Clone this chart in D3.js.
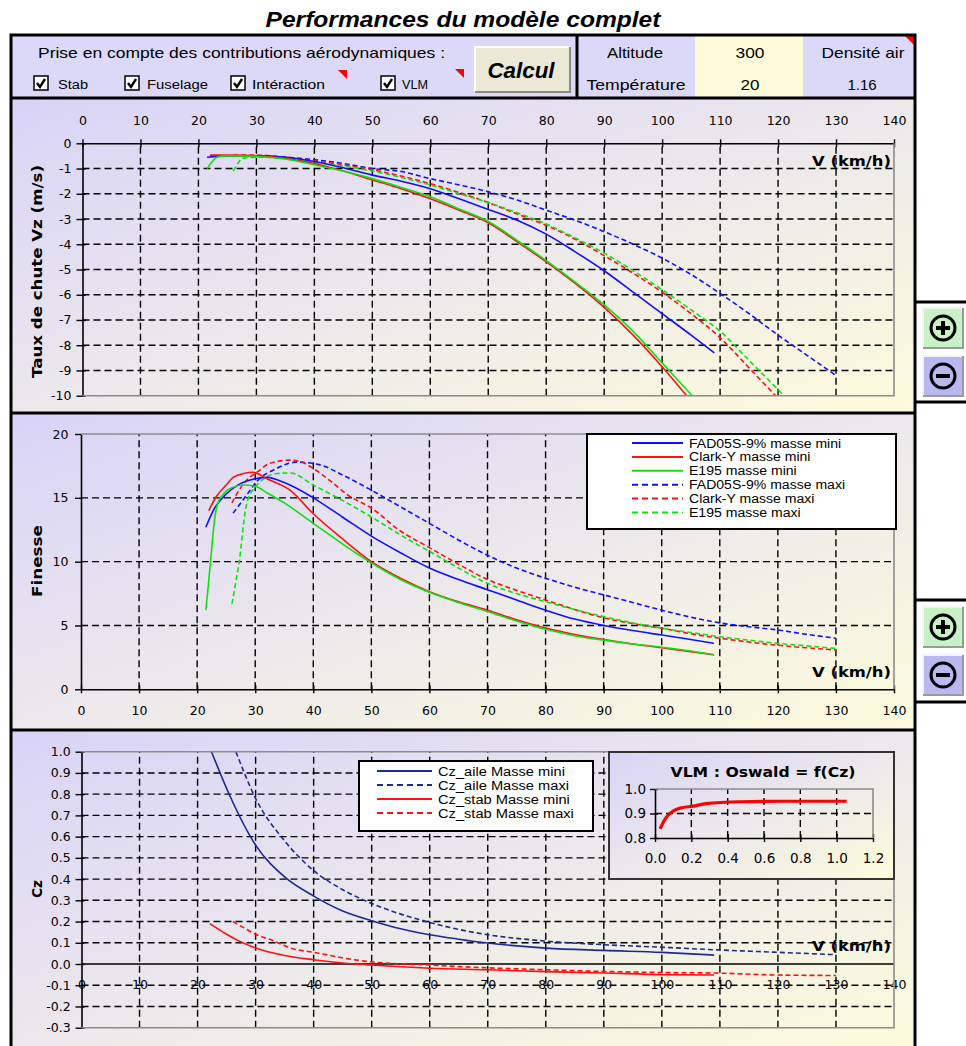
<!DOCTYPE html>
<html>
<head>
<meta charset="utf-8">
<script src="https://cdn.jsdelivr.net/npm/d3@7"></script>
<style>
body { margin: 0; background: #fff; }
svg text { font-family: "DejaVu Sans", Verdana, sans-serif; }
</style>
</head>
<body>
<div id="chart-area"></div>
<script>
// SVG size
let width = 966,
	height = 1046;

// tick values
const speedTicks = [0, 10, 20, 30, 40, 50, 60, 70, 80, 90, 100, 110, 120, 130, 140];
const vzTicks = [0, -1, -2, -3, -4, -5, -6, -7, -8, -9, -10];
const finesseTicks = [0, 5, 10, 15, 20];
const czTicks = [1.0, 0.9, 0.8, 0.7, 0.6, 0.5, 0.4, 0.3, 0.2, 0.1, 0.0, -0.1, -0.2, -0.3];
const oswaldXTicks = [0, 0.2, 0.4, 0.6, 0.8, 1.0, 1.2];
const oswaldYTicks = [0.8, 0.9, 1.0];

// legend labels
const profileNames = ["FAD05S-9% masse mini", "Clark-Y masse mini", "E195 masse mini",
	"FAD05S-9% masse maxi", "Clark-Y masse maxi", "E195 masse maxi"];
const czNames = ["Cz_aile Masse mini", "Cz_aile Masse maxi", "Cz_stab Masse mini", "Cz_stab Masse maxi"];

// Taux de chute Vz (m/s) vs V (km/h)
const vzFadMini = [[21.5,-0.55],[25,-0.5],[30,-0.5],[35,-0.55],[40,-0.72],[45,-0.97],[50,-1.26],[55,-1.5],[60,-1.8],[65,-2.2],[70,-2.62],[75,-3.05],[80,-3.6],[85,-4.3],[90,-5.05],[95,-5.9],[100,-6.75],[105,-7.6],[109,-8.3]];
const vzClarkMini = [[22,-0.47],[25,-0.47],[30,-0.5],[35,-0.6],[40,-0.8],[45,-1.1],[50,-1.45],[55,-1.8],[60,-2.2],[65,-2.65],[70,-3.15],[75,-3.9],[80,-4.7],[85,-5.55],[90,-6.5],[95,-7.6],[100,-8.85],[105,-10.2],[109,-11.2]];
const vzE195Mini = [[21.5,-1.0],[22.3,-0.75],[23.2,-0.55],[25,-0.5],[30,-0.52],[35,-0.62],[40,-0.85],[45,-1.1],[50,-1.4],[55,-1.75],[60,-2.12],[65,-2.6],[70,-3.1],[75,-3.85],[80,-4.65],[85,-5.5],[90,-6.4],[95,-7.45],[100,-8.7],[105,-9.95],[109,-10.9]];
const vzFadMaxi = [[26,-0.5],[30,-0.5],[35,-0.55],[40,-0.65],[45,-0.8],[50,-1.0],[55,-1.12],[60,-1.4],[65,-1.65],[70,-1.92],[75,-2.25],[80,-2.65],[85,-3.05],[90,-3.5],[95,-4.0],[100,-4.55],[105,-5.2],[110,-5.95],[115,-6.75],[120,-7.6],[125,-8.4],[130,-9.2]];
const vzClarkMaxi = [[26,-0.47],[30,-0.47],[35,-0.55],[40,-0.7],[45,-0.85],[50,-1.05],[55,-1.3],[60,-1.6],[65,-1.95],[70,-2.35],[75,-2.8],[80,-3.25],[85,-3.8],[90,-4.45],[95,-5.15],[100,-5.9],[105,-6.75],[110,-7.7],[115,-8.9],[120,-10.1],[125,-11.3],[130,-12.5]];
const vzE195Maxi = [[26,-1.1],[26.8,-0.8],[27.6,-0.6],[30,-0.55],[35,-0.6],[40,-0.75],[45,-0.9],[50,-1.1],[55,-1.35],[60,-1.65],[65,-2.0],[70,-2.35],[75,-2.75],[80,-3.2],[85,-3.75],[90,-4.35],[95,-5.05],[100,-5.8],[105,-6.6],[110,-7.45],[115,-8.6],[121,-10],[125,-11],[130,-12.2]];

// Finesse vs V (km/h)
const fFadMini = [[21.5,12.7],[23,14.2],[25,15.3],[27,16.0],[30,16.5],[32,16.6],[35,16.2],[40,15.0],[45,13.5],[50,12.0],[55,10.7],[60,9.5],[65,8.6],[70,7.8],[75,7.0],[80,6.2],[85,5.5],[90,5.0],[95,4.6],[100,4.25],[105,3.9],[109,3.6]];
const fClarkMini = [[22,14.0],[23.3,15.1],[25,16.0],[26.2,16.6],[28,16.9],[29.6,17.0],[32,16.5],[36,15.6],[40,13.75],[45,11.8],[50,10.0],[55,8.7],[60,7.65],[65,6.85],[70,6.2],[75,5.45],[80,4.8],[85,4.3],[90,3.9],[95,3.55],[100,3.25],[105,2.95],[109,2.7]];
const fE195Mini = [[21.5,6.2],[22,8.5],[22.5,11.0],[23,13.3],[23.5,14.5],[24.5,15.3],[26,15.8],[28,16.0],[30,15.9],[32,15.4],[35,14.6],[40,13.0],[45,11.4],[50,9.9],[55,8.6],[60,7.6],[65,6.8],[70,6.1],[75,5.35],[80,4.7],[85,4.2],[90,3.85],[95,3.55],[100,3.3],[105,3.0],[109,2.7]];
const fFadMaxi = [[26.2,13.8],[28.5,15.2],[30.3,16.3],[33.7,17.3],[37,17.8],[41,17.6],[45,16.8],[50,15.6],[55,14.3],[60,13.0],[65,11.7],[70,10.5],[75,9.5],[80,8.7],[85,8.0],[90,7.4],[95,6.8],[100,6.2],[105,5.65],[110,5.2],[115,4.9],[120,4.65],[125,4.3],[130,4.0]];
const fClarkMaxi = [[26,14.6],[27.5,15.8],[29,16.6],[30,16.9],[32.5,17.7],[36,17.95],[38,17.8],[40,17.3],[43,16.3],[46,15.2],[50,14.2],[55,12.4],[60,11.1],[65,9.8],[70,8.6],[75,7.75],[80,7.0],[85,6.25],[90,5.6],[95,5.15],[100,4.78],[105,4.35],[110,4.0],[115,3.7],[120,3.45],[125,3.25],[130,3.08]];
const fE195Maxi = [[26,6.7],[26.7,8.5],[27.4,10.5],[28,13.0],[28.5,14.5],[30.3,16.0],[33.7,16.9],[36,16.95],[40,16.0],[45,14.8],[50,13.5],[55,12.1],[60,10.8],[65,9.5],[70,8.3],[75,7.5],[80,6.86],[85,6.25],[90,5.7],[95,5.2],[100,4.78],[105,4.45],[110,4.12],[115,3.85],[120,3.6],[125,3.4],[130,3.2]];

// Cz vs V (km/h)
const czAileMini = [[22.4,1.0],[25.6,0.79],[30,0.56],[35,0.41],[40,0.32],[45,0.25],[50,0.204],[55,0.166],[60,0.138],[65,0.117],[70,0.099],[80,0.075],[90,0.064],[100,0.055],[109,0.042]];
const czAileMaxi = [[26.6,1.0],[30,0.78],[35,0.58],[40,0.44],[45,0.35],[50,0.285],[55,0.235],[60,0.196],[65,0.163],[70,0.138],[80,0.108],[90,0.091],[100,0.079],[110,0.066],[120,0.055],[130,0.044]];
const czStabMini = [[22.1,0.19],[25,0.14],[27,0.11],[30,0.075],[35,0.04],[40,0.02],[45,0.005],[50,-0.005],[60,-0.02],[70,-0.027],[80,-0.036],[90,-0.042],[100,-0.05],[109,-0.052]];
const czStabMaxi = [[26.1,0.2],[28,0.17],[30,0.14],[33,0.11],[36,0.075],[40,0.055],[47,0.02],[50,0.01],[60,-0.005],[70,-0.018],[80,-0.027],[90,-0.035],[100,-0.04],[110,-0.043],[120,-0.052],[130,-0.054]];

// Oswald = f(Cz)
const oswald = [[0.028,0.837],[0.05,0.87],[0.074,0.895],[0.1,0.91],[0.138,0.922],[0.21,0.93],[0.28,0.94],[0.47,0.948],[0.7,0.95],[1.055,0.95]];

const blue = "#1010ff", red = "#ff1010", green = "#10e010", navy = "#1c2a92";

let svg = d3.select("#chart-area")
	.append("svg")
	.attr("width", width)
	.attr("height", height);

// panel gradient
let defs = svg.append("defs");
let grad = defs.append("linearGradient").attr("id", "panelGrad")
	.attr("x1", 0).attr("y1", 0).attr("x2", 1).attr("y2", 1);
grad.append("stop").attr("offset", 0).attr("stop-color", "#d8d3f7");
grad.append("stop").attr("offset", 0.5).attr("stop-color", "#ece8ec");
grad.append("stop").attr("offset", 1).attr("stop-color", "#fdfbdb");

// title
svg.append("text")
	.attr("x", 463).attr("y", 27)
	.attr("text-anchor", "middle")
	.attr("textLength", 395).attr("lengthAdjust", "spacingAndGlyphs")
	.style("font-family", "'Liberation Sans', Arial, sans-serif")
	.style("font-weight", "bold").style("font-style", "italic")
	.style("font-size", "22px")
	.text("Performances du modèle complet");

// header
svg.append("rect").attr("x", 10).attr("y", 35).attr("width", 905).attr("height", 63).attr("fill", "#dcd8f8");
svg.append("rect").attr("x", 695).attr("y", 36).attr("width", 108).attr("height", 61).attr("fill", "#fdfbd9");

function headerText(x, y, txt, len, size, anchor) {
	let t = svg.append("text")
		.attr("x", x).attr("y", y)
		.attr("text-anchor", anchor || "middle")
		.style("font-family", "'Liberation Sans', Arial, sans-serif")
		.style("font-size", size + "px")
		.text(txt);
	if (len) t.attr("textLength", len).attr("lengthAdjust", "spacingAndGlyphs");
}
headerText(38, 58, "Prise en compte des contributions aérodynamiques :", 407, 15, "start");
headerText(635, 58, "Altitude", 56, 15);
headerText(636, 90, "Température", 99, 15);
headerText(750, 58, "300", 29, 15);
headerText(750, 90, "20", 19, 15);
headerText(863, 58, "Densité air", 83, 15);
headerText(862, 90, "1.16", null, 15);

// check boxes
let checks = [[34, "Stab", 58, 30], [125, "Fuselage", 147, 61], [231, "Intéraction", 252, 73], [381, "VLM", 402, 26]];
checks.forEach(c => {
	svg.append("rect").attr("x", c[0]).attr("y", 76).attr("width", 14).attr("height", 14)
		.attr("fill", "#fff").attr("stroke", "#000").attr("stroke-width", 1.5);
	svg.append("path").attr("d", `M${c[0] + 3},${83} L${c[0] + 6},${87} L${c[0] + 11},${79}`)
		.attr("fill", "none").attr("stroke", "#000").attr("stroke-width", 2.4);
	headerText(c[2], 89, c[1], c[3], 12, "start");
});
// red comment markers
[[338, 70], [455, 69]].forEach(p => {
	svg.append("path").attr("d", `M${p[0]},${p[1]} L${p[0] + 9},${p[1]} L${p[0] + 9},${p[1] + 9} Z`).attr("fill", "#ff0000");
});
svg.append("path").attr("d", "M905,36 L914,36 L914,45 Z").attr("fill", "#ff0000");

// Calcul button
svg.append("rect").attr("x", 475).attr("y", 47).attr("width", 95).attr("height", 45).attr("fill", "#ebe8d6");
svg.append("path").attr("d", "M475,92 L475,47 L570,47").attr("fill", "none").attr("stroke", "#fff").attr("stroke-width", 2);
svg.append("path").attr("d", "M475,92 L570,92 L570,47").attr("fill", "none").attr("stroke", "#8a8a80").attr("stroke-width", 2);
svg.append("text").attr("x", 521).attr("y", 78)
	.attr("text-anchor", "middle")
	.attr("textLength", 67).attr("lengthAdjust", "spacingAndGlyphs")
	.style("font-family", "'Liberation Sans', Arial, sans-serif")
	.style("font-weight", "bold").style("font-style", "italic").style("font-size", "22px")
	.text("Calcul");

// panels
[[98, 413], [413, 730], [730, 1050]].forEach(p => {
	svg.append("rect").attr("x", 10).attr("y", p[0]).attr("width", 905).attr("height", p[1] - p[0])
		.attr("fill", "url(#panelGrad)");
});

// shared helpers
function drawGrid(g, x, y, xVals, yVals) {
	let [x0, x1] = x.range(), [y0, y1] = y.range();
	g.selectAll(null).data(xVals).enter().append("line")
		.attr("x1", d => x(d)).attr("x2", d => x(d))
		.attr("y1", y0).attr("y2", y1)
		.attr("stroke", "#000").attr("stroke-width", 1.4).attr("stroke-dasharray", "7,4");
	g.selectAll(null).data(yVals).enter().append("line")
		.attr("x1", x0).attr("x2", x1)
		.attr("y1", d => y(d)).attr("y2", d => y(d))
		.attr("stroke", "#000").attr("stroke-width", 1.4).attr("stroke-dasharray", "7,4");
}

function styleAxis(g, size, cross, vertical) {
	g.attr("font-family", null).attr("font-size", null);
	g.select(".domain").attr("stroke", "#000").attr("stroke-width", 1.6);
	g.selectAll(".tick line").attr("stroke", "#000").attr("stroke-width", 1.4)
		.attr(vertical ? "x1" : "y1", cross);
	g.selectAll(".tick text").style("font-size", size + "px").attr("fill", "#000");
}

function drawSeries(g, data, x, y, color, dashed, w) {
	g.append("path").datum(data)
		.attr("d", d3.line().x(d => x(d[0])).y(d => y(d[1])).curve(d3.curveMonotoneX))
		.attr("fill", "none")
		.attr("stroke", color)
		.attr("stroke-width", w || 1.6)
		.attr("stroke-dasharray", dashed ? "5,3" : null);
}

function grayBorder(pts) {
	svg.append("path").attr("d", "M" + pts.map(p => p.join(",")).join(" L"))
		.attr("fill", "none").attr("stroke", "#8c8c8c").attr("stroke-width", 1.6);
}

function boldLabel(x, y, txt, len, rotate) {
	svg.append("text")
		.attr("transform", `translate(${x},${y})` + (rotate ? " rotate(-90)" : ""))
		.attr("text-anchor", rotate ? "middle" : "end")
		.attr("textLength", len).attr("lengthAdjust", "spacingAndGlyphs")
		.style("font-weight", "bold").style("font-size", "14px")
		.text(txt);
}

// legend text, slightly stretched like the original
function legendText(g, x, y, txt, stretch) {
	let t = g.append("text").attr("x", x).attr("y", y)
		.style("font-family", "'Liberation Sans', Arial, sans-serif").style("font-size", "12px")
		.text(txt);
	let len = t.node().getComputedTextLength();
	t.attr("textLength", len * stretch).attr("lengthAdjust", "spacingAndGlyphs");
}

// ---------- chart 1 : Taux de chute ----------
let xTop = d3.scaleLinear().domain([0, 140]).range([82.5, 894]);
let yTop = d3.scaleLinear().domain([-10, 0]).range([395.7, 143.3]);

let g1 = svg.append("g");
drawGrid(g1, xTop, yTop, speedTicks.slice(1, -1), vzTicks.slice(1, -1));
grayBorder([[xTop(140), yTop(0)], [xTop(140), yTop(-10)], [xTop(0), yTop(-10)]]);
g1.append("g").attr("transform", `translate(0,${yTop(0)})`)
	.call(d3.axisTop(xTop).tickValues(speedTicks).tickSize(4).tickPadding(14).tickSizeOuter(0).tickFormat(d => d))
	.call(g => styleAxis(g, 12.5, 4, false));
g1.append("g").attr("transform", `translate(${xTop(0)},0)`)
	.call(d3.axisLeft(yTop).tickValues(vzTicks).tickSize(6).tickPadding(5).tickSizeOuter(0).tickFormat(d => String(d)))
	.call(g => styleAxis(g, 12.5, 3, true));

defs.append("clipPath").attr("id", "clipTop").append("rect")
	.attr("x", xTop(0)).attr("y", yTop(0)).attr("width", xTop(140) - xTop(0)).attr("height", yTop(-10) - yTop(0));
let lines1 = g1.append("g").attr("clip-path", "url(#clipTop)");
drawSeries(lines1, vzFadMaxi, xTop, yTop, blue, true);
drawSeries(lines1, vzClarkMaxi, xTop, yTop, red, true);
drawSeries(lines1, vzE195Maxi, xTop, yTop, green, true);
drawSeries(lines1, vzFadMini, xTop, yTop, blue, false);
drawSeries(lines1, vzClarkMini, xTop, yTop, red, false);
drawSeries(lines1, vzE195Mini, xTop, yTop, green, false);

boldLabel(42, 271.5, "Taux de chute Vz (m/s)", 213, true);
boldLabel(891, 166, "V (km/h)", 79, false);

// ---------- chart 2 : Finesse ----------
let xMid = d3.scaleLinear().domain([0, 140]).range([81, 894]);
let yMid = d3.scaleLinear().domain([0, 20]).range([689.3, 434]);

let g2 = svg.append("g");
drawGrid(g2, xMid, yMid, speedTicks.slice(1, -1), finesseTicks.slice(1, -1));
grayBorder([[xMid(0), yMid(20)], [xMid(140), yMid(20)], [xMid(140), yMid(0)]]);
g2.append("g").attr("transform", `translate(0,${yMid(0)})`)
	.call(d3.axisBottom(xMid).tickValues(speedTicks).tickSize(4).tickPadding(12.5).tickSizeOuter(0).tickFormat(d => d))
	.call(g => styleAxis(g, 12.5, -4, false));
g2.append("g").attr("transform", `translate(${xMid(0)},0)`)
	.call(d3.axisLeft(yMid).tickValues(finesseTicks).tickSize(6).tickPadding(6.5).tickSizeOuter(0).tickFormat(d => d))
	.call(g => styleAxis(g, 12.5, 0, true));

drawSeries(g2, fFadMaxi, xMid, yMid, blue, true);
drawSeries(g2, fClarkMaxi, xMid, yMid, red, true);
drawSeries(g2, fE195Maxi, xMid, yMid, green, true);
drawSeries(g2, fFadMini, xMid, yMid, blue, false);
drawSeries(g2, fClarkMini, xMid, yMid, red, false);
drawSeries(g2, fE195Mini, xMid, yMid, green, false);

boldLabel(42, 561, "Finesse", 72, true);
boldLabel(891, 677, "V (km/h)", 79, false);

// legend
let leg2 = svg.append("g");
leg2.append("rect").attr("x", 587).attr("y", 434).attr("width", 309).attr("height", 95)
	.attr("fill", "#fff").attr("stroke", "#000").attr("stroke-width", 2);
let legColors = [blue, red, green, blue, red, green];
profileNames.forEach((name, i) => {
	let y = 443 + i * 13.9;
	leg2.append("line").attr("x1", 632).attr("x2", 683).attr("y1", y).attr("y2", y)
		.attr("stroke", legColors[i]).attr("stroke-width", 2)
		.attr("stroke-dasharray", i > 2 ? "6,4" : null);
	legendText(leg2, 689, y + 4.5, name, 1.17);
});

// ---------- chart 3 : Cz ----------
let xBot = d3.scaleLinear().domain([0, 140]).range([81.5, 894]);
let yBot = d3.scaleLinear().domain([-0.3, 1.0]).range([1027.7, 751.7]);

let g3 = svg.append("g");
g3.append("g").attr("transform", `translate(0,${yBot(0)})`)
	.call(d3.axisBottom(xBot).tickValues(speedTicks).tickSize(0).tickPadding(16.5).tickFormat(d => d))
	.call(g => styleAxis(g, 12.5, 0, false))
	.call(g => g.select(".domain").remove());
drawGrid(g3, xBot, yBot, speedTicks.slice(1, -1), czTicks.filter(d => d !== 1.0 && d !== 0 && d !== -0.3));
grayBorder([[xBot(0), yBot(1.0)], [xBot(140), yBot(1.0)], [xBot(140), yBot(-0.3)], [xBot(0), yBot(-0.3)]]);
g3.append("line").attr("x1", xBot(0)).attr("x2", xBot(140)).attr("y1", yBot(0)).attr("y2", yBot(0))
	.attr("stroke", "#000").attr("stroke-width", 1.6);
g3.append("g").attr("transform", `translate(${xBot(0)},0)`)
	.call(d3.axisLeft(yBot).tickValues(czTicks).tickSize(6).tickPadding(4.8).tickSizeOuter(0).tickFormat(d => d.toFixed(1)))
	.call(g => styleAxis(g, 12.5, 3, true));

drawSeries(g3, czAileMini, xBot, yBot, navy, false);
drawSeries(g3, czAileMaxi, xBot, yBot, navy, true);
drawSeries(g3, czStabMini, xBot, yBot, red, false);
drawSeries(g3, czStabMaxi, xBot, yBot, red, true);

boldLabel(42, 889, "Cz", 18, true);
boldLabel(891, 951, "V (km/h)", 79, false);

// legend
let leg3 = svg.append("g");
leg3.append("rect").attr("x", 359).attr("y", 761).attr("width", 234).attr("height", 70)
	.attr("fill", "#fff").attr("stroke", "#000").attr("stroke-width", 2);
let czColors = [navy, navy, red, red];
czNames.forEach((name, i) => {
	let y = 771 + i * 14;
	leg3.append("line").attr("x1", 377).attr("x2", 432).attr("y1", y).attr("y2", y)
		.attr("stroke", czColors[i]).attr("stroke-width", 2)
		.attr("stroke-dasharray", i % 2 ? "6,4" : null);
	legendText(leg3, 438, y + 4.5, name, 1.22);
});

// inset : VLM Oswald
let g4 = svg.append("g");
g4.append("rect").attr("x", 609).attr("y", 752).attr("width", 285).attr("height", 127)
	.attr("fill", "url(#panelGrad)").attr("stroke", "#333").attr("stroke-width", 2);
let xIn = d3.scaleLinear().domain([0, 1.2]).range([655, 873]);
let yIn = d3.scaleLinear().domain([0.8, 1.0]).range([838, 789]);
drawGrid(g4, xIn, yIn, oswaldXTicks.slice(1, -1), [0.9]);
svg.append("path").attr("d", `M${xIn(0)},${yIn(1.0)} L${xIn(1.2)},${yIn(1.0)} L${xIn(1.2)},${yIn(0.8)}`)
	.attr("fill", "none").attr("stroke", "#8c8c8c").attr("stroke-width", 1.6);
g4.append("g").attr("transform", `translate(0,${yIn(0.8)})`)
	.call(d3.axisBottom(xIn).tickValues(oswaldXTicks).tickSize(4).tickPadding(11.5).tickSizeOuter(0).tickFormat(d => d.toFixed(1)))
	.call(g => styleAxis(g, 13.5, -4, false));
g4.append("g").attr("transform", `translate(${xIn(0)},0)`)
	.call(d3.axisLeft(yIn).tickValues(oswaldYTicks).tickSize(5).tickPadding(4).tickSizeOuter(0).tickFormat(d => d.toFixed(1)))
	.call(g => styleAxis(g, 13.5, 3, true));
drawSeries(svg, oswald, xIn, yIn, "#ff0000", false, 3.2);
svg.append("text").attr("x", 763).attr("y", 777)
	.attr("text-anchor", "middle")
	.attr("textLength", 185).attr("lengthAdjust", "spacingAndGlyphs")
	.style("font-weight", "bold").style("font-size", "14px")
	.text("VLM : Oswald = f(Cz)");

// frame borders
let frame = svg.append("g").attr("stroke", "#000").attr("stroke-width", 3).attr("fill", "none");
frame.append("path").attr("d", "M11,1050 L11,35 L915,35 L915,1050");
frame.append("line").attr("x1", 11).attr("x2", 915).attr("y1", 98).attr("y2", 98);
frame.append("line").attr("x1", 11).attr("x2", 915).attr("y1", 413).attr("y2", 413);
frame.append("line").attr("x1", 11).attr("x2", 915).attr("y1", 730).attr("y2", 730);
frame.append("line").attr("x1", 577).attr("x2", 577).attr("y1", 35).attr("y2", 98);
[302, 402, 600, 702].forEach(y => {
	frame.append("line").attr("x1", 915).attr("x2", 966).attr("y1", y).attr("y2", y);
});

// zoom buttons
function zoomButton(cy, fill, plus) {
	let cx = 943;
	svg.append("rect").attr("x", cx - 20).attr("y", cy - 20).attr("width", 40).attr("height", 40).attr("fill", fill);
	svg.append("path").attr("d", `M${cx - 20},${cy + 20} L${cx - 20},${cy - 20} L${cx + 20},${cy - 20}`)
		.attr("fill", "none").attr("stroke", "#f4f4f4").attr("stroke-width", 2);
	svg.append("path").attr("d", `M${cx - 20},${cy + 20} L${cx + 20},${cy + 20} L${cx + 20},${cy - 20}`)
		.attr("fill", "none").attr("stroke", "#9a9a9a").attr("stroke-width", 2);
	svg.append("circle").attr("cx", cx).attr("cy", cy).attr("r", 12)
		.attr("fill", "none").attr("stroke", "#000").attr("stroke-width", 3);
	svg.append("line").attr("x1", cx - 7).attr("x2", cx + 7).attr("y1", cy).attr("y2", cy)
		.attr("stroke", "#000").attr("stroke-width", 4);
	if (plus) {
		svg.append("line").attr("x1", cx).attr("x2", cx).attr("y1", cy - 7).attr("y2", cy + 7)
			.attr("stroke", "#000").attr("stroke-width", 4);
	}
}
zoomButton(328, "#c6f2c4", true);
zoomButton(376, "#b9b9f2", false);
zoomButton(627, "#c6f2c4", true);
zoomButton(675, "#b9b9f2", false);
</script>
</body>
</html>
